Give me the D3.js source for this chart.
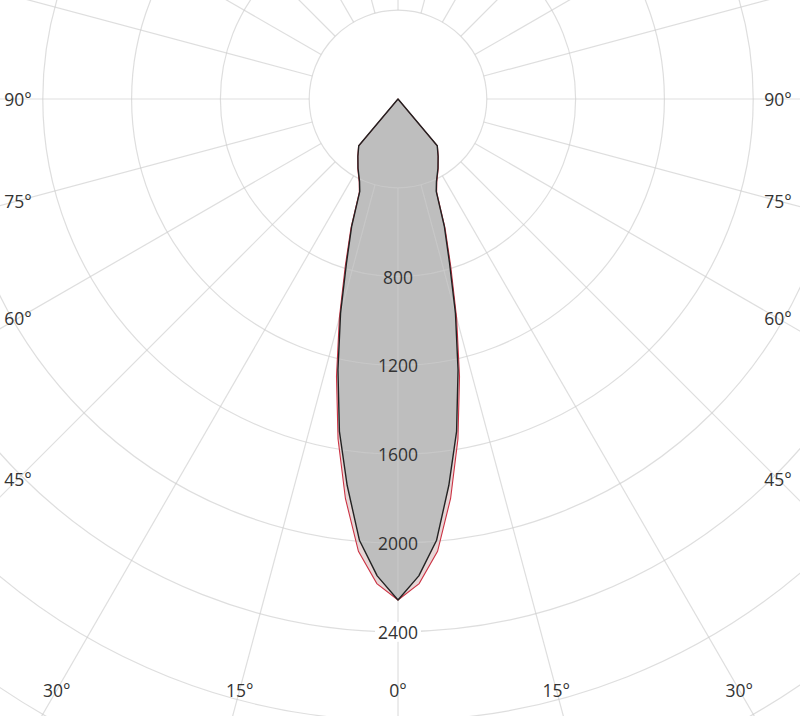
<!DOCTYPE html>
<html>
<head>
<meta charset="utf-8">
<script src="https://cdn.jsdelivr.net/npm/d3@7"></script>
<style>
  html, body { margin: 0; padding: 0; background: #fff; }
  svg { display: block; }
  text { font-family: "Open Sans", "DejaVu Sans", sans-serif; fill: #333; }
</style>
</head>
<body>
<svg id="chart" width="800" height="716"></svg>
<script>
// ---- data ----
const gammas = [0, 2.5, 5, 7.5, 10, 12.5, 15, 17.5, 20, 22.5, 25, 30, 35, 40, 45, 50, 60, 70, 80, 90];
const planeC0 = [2257, 2150, 1995, 1755, 1520, 1250, 1000, 770, 610, 450, 410, 360, 315, 275, 0, 0, 0, 0, 0, 0];
const planeC90 = [2257, 2185, 2045, 1815, 1555, 1280, 1020, 790, 620, 455, 413, 362, 316, 276, 0, 0, 0, 0, 0, 0];
const ringValues = [400, 800, 1200, 1600, 2000, 2400, 2800, 3200, 3600];
const ringLabels = ["800", "1200", "1600", "2000", "2400"];
const angleLabels = [90, 75, 60, 45, 30, 15, 0];

// ---- layout ----
const W = 800, H = 716;
const cx = 398, cy = 99;
const FS = 17.5;
const r = d3.scaleLinear().domain([0, 400]).range([0, 88.8]);
const svg = d3.select("#chart");
svg.append("rect").attr("width", W).attr("height", H).attr("fill", "#fff");
const g = svg.append("g").attr("transform", `translate(${cx},${cy})`);

// full symmetric curve: gamma from -90..90 (downward hemisphere), upper is zero
function fullCurve(vals) {
  const pts = [];
  for (let i = gammas.length - 1; i >= 0; i--) pts.push({ g: -gammas[i], v: vals[i] });
  for (let i = 1; i < gammas.length; i++) pts.push({ g: gammas[i], v: vals[i] });
  return pts;
}
const radial = d3.lineRadial()
  .angle(d => Math.PI - d.g * Math.PI / 180)
  .radius(d => r(d.v))
  .curve(d3.curveLinearClosed);

// fills
g.append("path").attr("d", radial(fullCurve(planeC90))).attr("fill", "#e6d6d6");
g.append("path").attr("d", radial(fullCurve(planeC0))).attr("fill", "#bebebe");

// grid
const grid = g.append("g").attr("stroke", "#cccccc").attr("stroke-opacity", 0.65).attr("fill", "none");
ringValues.forEach(v => grid.append("circle").attr("r", r(v)).attr("stroke-width", 1.2));
for (let a = 0; a < 360; a += 15) {
  const t = a * Math.PI / 180;
  const r0 = r(400), r1 = 1400;
  grid.append("line")
    .attr("x1", r0 * Math.sin(t)).attr("y1", r0 * Math.cos(t))
    .attr("x2", r1 * Math.sin(t)).attr("y2", r1 * Math.cos(t))
    .attr("stroke-width", 1.2);
}

// curves
g.append("path").attr("d", radial(fullCurve(planeC90)))
  .attr("fill", "none").attr("stroke", "#cc3344").attr("stroke-width", 1.1);
g.append("path").attr("d", radial(fullCurve(planeC0)))
  .attr("fill", "none").attr("stroke", "#222").attr("stroke-width", 1.4).attr("stroke-linejoin", "round");

// ring labels
ringLabels.forEach(s => {
  const v = +s;
  const y = r(v);
  if (v === 2400) {
    g.append("rect").attr("x", -23).attr("y", y - 10).attr("width", 46).attr("height", 20).attr("fill", "#fff");
  }
  g.append("text").attr("x", 0).attr("y", y).attr("text-anchor", "middle")
    .attr("dominant-baseline", "central").attr("font-size", FS).text(s);
});

// angle labels along plot border
const sideDist = 380, bottomDist = 591;
angleLabels.forEach(a => {
  const t = a * Math.PI / 180;
  if (a >= 45) {
    const dy = a === 90 ? 0 : sideDist / Math.tan(t);
    [-1, 1].forEach(s => {
      g.append("text").attr("x", s * sideDist).attr("y", dy)
        .attr("text-anchor", "middle").attr("dominant-baseline", "central")
        .attr("font-size", FS).text(a + "°");
    });
  } else {
    const dx = bottomDist * Math.tan(t);
    const sides = a === 0 ? [1] : [-1, 1];
    sides.forEach(s => {
      g.append("text").attr("x", s * dx).attr("y", bottomDist)
        .attr("text-anchor", "middle").attr("dominant-baseline", "central")
        .attr("font-size", FS).text(a + "°");
    });
  }
});
</script>
</body>
</html>
